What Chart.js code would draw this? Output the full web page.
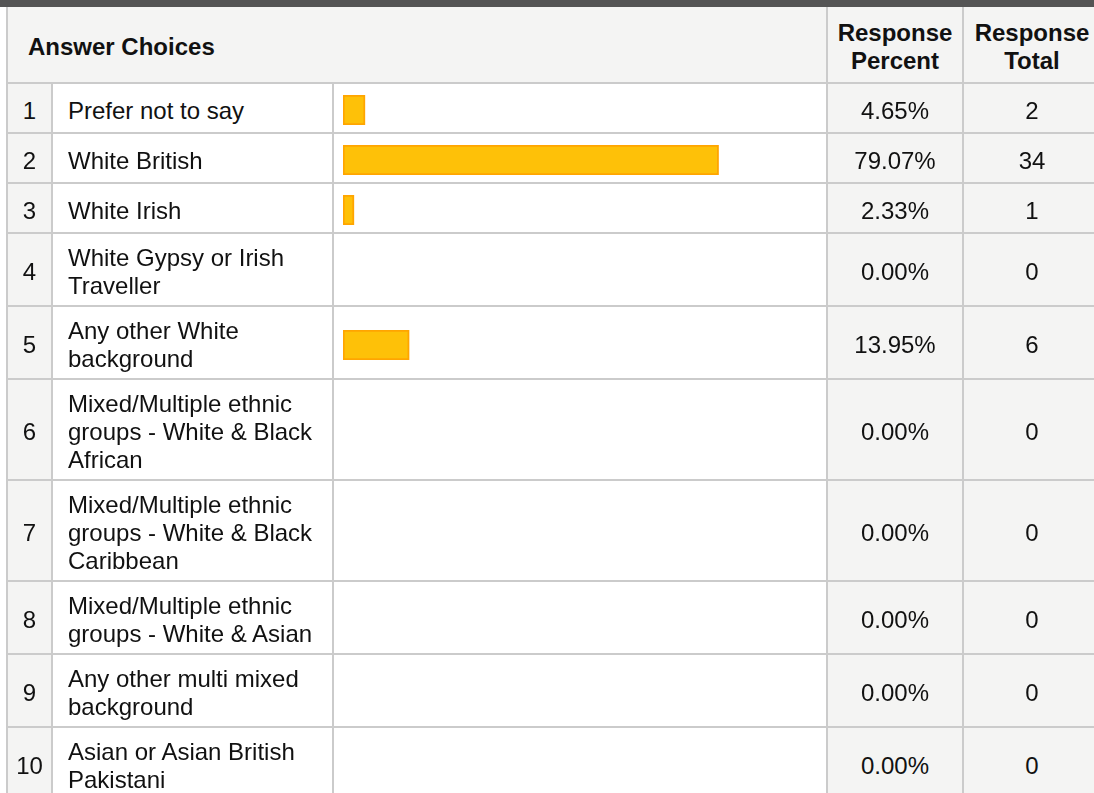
<!DOCTYPE html>
<html>
<head>
<meta charset="utf-8">
<title>Answer Choices</title>
<script src="https://cdn.jsdelivr.net/npm/chart.js@4/dist/chart.umd.min.js"></script>
<style>
  html, body { margin: 0; padding: 0; overflow: hidden; background: #fff; width: 1094px; height: 793px; }
  body { font-family: "Liberation Sans", Arial, sans-serif; font-size: 24px; color: #111; position: relative; }
  .band { position: absolute; left: 0; top: 0; width: 1094px; height: 7px; background: #545454; }
  .grid { position: absolute; left: 6px; top: 7px; border-left: 2px solid #cbcbcb; }
  .row { display: flex; }
  .cell { box-sizing: border-box; border-right: 2px solid #cbcbcb; border-bottom: 2px solid #cbcbcb;
          display: flex; align-items: center; line-height: 28px; }
  .num { width: 45px; justify-content: center; background: #f4f4f3; padding-top: 5px; }
  .txt { width: 281px; padding: 10px 12px 5px 15px; background: #fff; }
  .bar { width: 494px; padding-left: 9px; padding-top: 4px; background: #fff; }
  .pct { width: 136px; justify-content: center; background: #f4f4f3; text-align: center; padding-top: 5px; }
  .tot { width: 138px; justify-content: center; background: #f4f4f3; text-align: center; padding-top: 5px; }
  .head .cell { background: #f4f4f3; font-weight: bold; height: 77px; padding-top: 4px; }
  .head .ans { width: 820px; padding-left: 20px; }
  .body .row { min-height: 50px; }
  .bar canvas { display: block; }
</style>
</head>
<body>
<div class="band"></div>
<div class="grid">
  <div class="row head">
    <div class="cell ans">Answer Choices</div>
    <div class="cell pct">Response<br>Percent</div>
    <div class="cell tot">Response<br>Total</div>
  </div>
  <div class="body" id="rows"></div>
</div>
<script>
// Survey answers, their share of respondents and raw counts
const categories = [
  "Prefer not to say",
  "White British",
  "White Irish",
  "White Gypsy or Irish Traveller",
  "Any other White background",
  "Mixed/Multiple ethnic groups - White & Black African",
  "Mixed/Multiple ethnic groups - White & Black Caribbean",
  "Mixed/Multiple ethnic groups - White & Asian",
  "Any other multi mixed background",
  "Asian or Asian British Pakistani"
];
const percents = [4.65, 79.07, 2.33, 0, 13.95, 0, 0, 0, 0, 0];
const totals = [2, 34, 1, 0, 6, 0, 0, 0, 0, 0];

const BAR_FILL = "#fec108";
const BAR_EDGE = "#ffa500";
const BAR_W = 475;
const BAR_H = 30;

const rowsEl = document.getElementById("rows");

categories.forEach((label, i) => {
  const row = document.createElement("div");
  row.className = "row";

  const num = document.createElement("div");
  num.className = "cell num";
  num.textContent = String(i + 1);

  const txt = document.createElement("div");
  txt.className = "cell txt";
  txt.textContent = label;

  const bar = document.createElement("div");
  bar.className = "cell bar";
  const canvas = document.createElement("canvas");
  canvas.width = BAR_W;
  canvas.height = BAR_H;
  bar.appendChild(canvas);

  const pct = document.createElement("div");
  pct.className = "cell pct";
  pct.textContent = percents[i].toFixed(2) + "%";

  const tot = document.createElement("div");
  tot.className = "cell tot";
  tot.textContent = String(totals[i]);

  row.append(num, txt, bar, pct, tot);
  rowsEl.appendChild(row);

  // One horizontal bar per answer, on a 0–100 % value axis
  new Chart(canvas, {
    type: "bar",
    data: {
      labels: [label],
      datasets: [{
        data: [percents[i]],
        backgroundColor: BAR_FILL,
        borderColor: BAR_EDGE,
        borderWidth: 2,
        borderSkipped: false,
        barPercentage: 1,
        categoryPercentage: 1
      }]
    },
    options: {
      indexAxis: "y",
      responsive: false,
      animation: false,
      devicePixelRatio: 1,
      layout: { padding: 0 },
      scales: {
        x: { display: false, min: 0, max: 100 },
        y: { display: false }
      },
      plugins: { legend: { display: false }, tooltip: { enabled: false } }
    }
  });
});
</script>
</body>
</html>
